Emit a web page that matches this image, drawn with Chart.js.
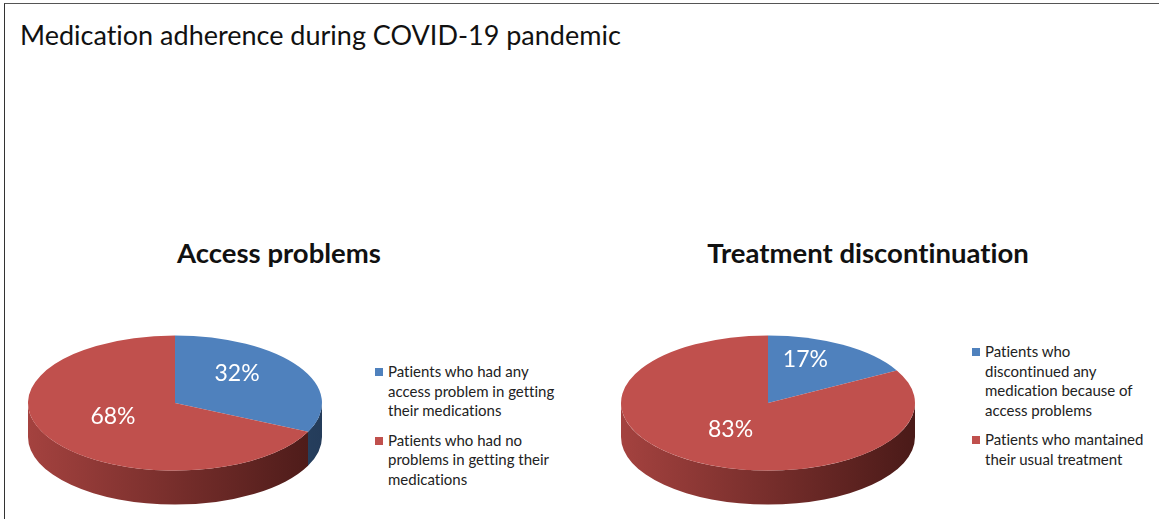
<!DOCTYPE html>
<html>
<head>
<meta charset="utf-8">
<title>Medication adherence during COVID-19 pandemic</title>
<script src="https://cdn.jsdelivr.net/npm/chart.js@4.4.1/dist/chart.umd.min.js"></script>
<style>
  html, body { margin: 0; padding: 0; background: #fff; }
  #page { position: relative; width: 1159px; height: 519px; overflow: hidden; background: #fff; font-family: Lato, "Open Sans", sans-serif; color: #111; font-variant-ligatures: none; }
  .frame { position: absolute; left: 4px; top: 3px; width: 1170px; height: 540px; border-left: 1.5px solid #333; border-top: 1.5px solid #555; }
  #mainTitle { position: absolute; left: 20px; top: 18px; font-size: 27px; white-space: nowrap; }
  .pieTitle { position: absolute; top: 236px; font-size: 27.5px; font-weight: bold; white-space: nowrap; transform: translateX(-50%); }
  .pieCanvas { position: absolute; }
  .legend { position: absolute; font-size: 15px; line-height: 19.5px; color: #222; }
  .legend .item { position: relative; padding-left: 13px; margin-bottom: 10px; white-space: nowrap; }
  .legend .swatch { position: absolute; left: 0; top: 6px; width: 8px; height: 8px; }
</style>
</head>
<body>
<div id="page">
  <div class="frame"></div>
  <div id="mainTitle">Medication adherence during COVID-19 pandemic</div>
  <div class="pieTitle" id="title1" style="left:279px">Access problems</div>
  <div class="pieTitle" id="title2" style="left:868px">Treatment discontinuation</div>
  <canvas class="pieCanvas" id="pie1" width="320" height="320"></canvas>
  <canvas class="pieCanvas" id="pie2" width="320" height="320"></canvas>
  <div class="legend" id="legend1" style="left:375px; top:362px"></div>
  <div class="legend" id="legend2" style="left:972px; top:342px"></div>
</div>
<script>
// ---- data ----
const accessLabels = [
  ['Patients who had any', 'access problem in getting', 'their medications'],
  ['Patients who had no', 'problems in getting their', 'medications']
];
const accessValues = [32, 68];

const treatmentLabels = [
  ['Patients who', 'discontinued any', 'medication because of', 'access problems'],
  ['Patients who mantained', 'their usual treatment']
];
const treatmentValues = [17, 83];

// Office palette: top faces and [light, dark] side shading
const sliceColors = ['#4F81BD', '#C0504D'];
const sideColors = [['#3F6797', '#243C5A'], ['#A4423F', '#4A1A18']];

// ---- 3D pie rendering: side walls + squashed top face ----
const pie3d = {
  id: 'pie3d',
  beforeDatasetsDraw(chart, args, opts) {
    const ctx = chart.ctx;
    const arcs = chart.getDatasetMeta(0).data;
    if (!arcs.length) return;
    const p = arcs[0].getProps(['x', 'y', 'outerRadius'], true);
    const cx = p.x, cy = p.y, r = p.outerRadius;
    const ry = r * opts.squash, d = opts.depth;

    arcs.forEach((arc, i) => {
      const a = arc.getProps(['startAngle', 'endAngle'], true);
      const a1 = Math.max(a.startAngle, 0);
      const a2 = Math.min(a.endAngle, Math.PI);
      if (a2 <= a1) return;
      const g = ctx.createLinearGradient(cx - r, 0, cx + r, 0);
      const [light, dark] = opts.sides[i % opts.sides.length];
      g.addColorStop(0, light);
      g.addColorStop(1, dark);
      ctx.save();
      ctx.beginPath();
      ctx.ellipse(cx, cy, r, ry, 0, a1, a2, false);
      ctx.ellipse(cx, cy + d, r, ry, 0, a2, a1, true);
      ctx.closePath();
      ctx.fillStyle = g;
      ctx.fill();
      ctx.restore();
    });

    ctx.save();
    ctx.translate(cx, cy);
    ctx.scale(1, opts.squash);
    ctx.translate(-cx, -cy);
  },
  afterDatasetsDraw(chart, args, opts) {
    const ctx = chart.ctx;
    ctx.restore();
    const arcs = chart.getDatasetMeta(0).data;
    const values = chart.data.datasets[0].data;
    const total = values.reduce((s, v) => s + v, 0);
    ctx.save();
    ctx.fillStyle = '#fff';
    ctx.font = '23px Lato, sans-serif';
    ctx.textAlign = 'center';
    ctx.textBaseline = 'middle';
    arcs.forEach((arc, i) => {
      const a = arc.getProps(['x', 'y', 'startAngle', 'endAngle', 'outerRadius'], true);
      const mid = (a.startAngle + a.endAngle) / 2;
      const lx = a.x + Math.cos(mid) * a.outerRadius * opts.labelRx;
      const ly = a.y - opts.labelLift + Math.sin(mid) * a.outerRadius * opts.squash * opts.labelRy;
      ctx.fillText(Math.round(values[i] / total * 100) + '%', lx, ly);
    });
    ctx.restore();
  }
};

function makePie(canvasId, labels, values, cx, cy) {
  const cv = document.getElementById(canvasId);
  cv.style.left = (cx - 160) + 'px';
  cv.style.top = (cy - 160) + 'px';
  return new Chart(cv, {
    type: 'pie',
    data: {
      labels: labels,
      datasets: [{ data: values, backgroundColor: sliceColors, borderWidth: 0 }]
    },
    options: {
      responsive: false,
      animation: false,
      events: [],
      layout: { padding: 13 },
      plugins: {
        legend: { display: false },
        tooltip: { enabled: false },
        pie3d: { squash: 0.46, depth: 34, sides: sideColors, labelRx: 0.5, labelRy: 0.6, labelLift: 8 }
      }
    },
    plugins: [pie3d]
  });
}

function buildLegend(elId, labels) {
  const el = document.getElementById(elId);
  labels.forEach((lines, i) => {
    const item = document.createElement('div');
    item.className = 'item';
    const sw = document.createElement('span');
    sw.className = 'swatch';
    sw.style.background = sliceColors[i];
    item.appendChild(sw);
    lines.forEach(t => {
      const ln = document.createElement('div');
      ln.textContent = t;
      item.appendChild(ln);
    });
    el.appendChild(item);
  });
}

makePie('pie1', accessLabels, accessValues, 175, 403);
makePie('pie2', treatmentLabels, treatmentValues, 768, 403);
buildLegend('legend1', accessLabels);
buildLegend('legend2', treatmentLabels);
</script>
</body>
</html>
